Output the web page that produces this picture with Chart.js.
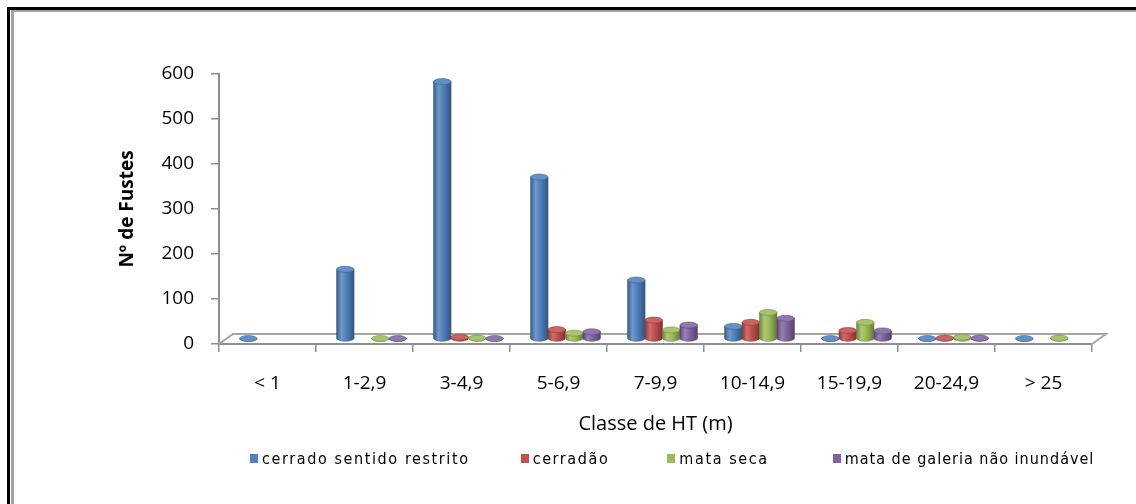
<!DOCTYPE html>
<html>
<head>
<meta charset="utf-8">
<script src="https://cdn.jsdelivr.net/npm/chart.js@4/dist/chart.umd.min.js"></script>
<style>
  html, body { margin: 0; padding: 0; background: #fff; }
  body { width: 1136px; height: 504px; position: relative; overflow: hidden; }
  .frame-outer { position: absolute; left: 7px; top: 7px; width: 1300px; height: 700px;
                 border-left: 3px solid #000; border-top: 3px solid #000; }
  .frame-inner { position: absolute; left: 11px; top: 10px; width: 1300px; height: 700px;
                 border-left: 3px solid #a3a3a3; border-top: 2px solid #a3a3a3; }
  #chart { position: absolute; left: 0; top: 0; }
  #legend { position: absolute; left: 250px; top: 449px; display: flex; align-items: center;
            font-family: "Liberation Sans Narrow", "DejaVu Sans Condensed", sans-serif;
            font-size: 16px; letter-spacing: 1.6px; color: #000; white-space: nowrap; }
  #legend .item { display: flex; align-items: center; }
  #legend .item:nth-child(1) { margin-right: 51px; }
  #legend .item:nth-child(2) { margin-right: 58px; }
  #legend .item:nth-child(3) { margin-right: 64px; }
  #legend .item:nth-child(4) span:last-child { letter-spacing: 1.0px; }
  #legend .swatch { width: 8px; height: 9px; margin-right: 4px; }
</style>
</head>
<body>
<div class="frame-outer"></div>
<div class="frame-inner"></div>
<canvas id="chart" width="1136" height="504"></canvas>
<div id="legend"></div>
<script>
// Height classes (m)
const categories = ['< 1', '1-2,9', '3-4,9', '5-6,9', '7-9,9', '10-14,9', '15-19,9', '20-24,9', '> 25'];

// Number of stems per height class, by vegetation type
const cerradoSentidoRestrito = [1, 155, 572, 360, 131, 28, 1, 1, 1];
const cerradao               = [null, null, 4, 21, 42, 37, 19, 2, null];
const mataSeca               = [null, 1, 2, 13, 20, 59, 37, 4, 2];
const mataDeGaleria          = [null, 1, 1, 16, 31, 46, 18, 2, null];

const seriesNames  = ['cerrado sentido restrito', 'cerradão', 'mata seca', 'mata de galeria não inundável'];
const seriesColors = ['#4F81BD', '#C0504D', '#9BBB59', '#8064A2'];
const seriesValues = [cerradoSentidoRestrito, cerradao, mataSeca, mataDeGaleria];

const yTicks = [0, 100, 200, 300, 400, 500, 600];

const axisGray = '#8f8f8f';
// floor depth of the pseudo-3D plot (front edge -> back wall)
const DEPTH = { dx: 14, dy: -10 };

function shade(hex, f) {
  const n = parseInt(hex.slice(1), 16);
  let r = (n >> 16) & 255, g = (n >> 8) & 255, b = n & 255;
  const m = c => Math.max(0, Math.min(255, Math.round(f >= 1 ? c + (255 - c) * (f - 1) : c * f)));
  return `rgb(${m(r)},${m(g)},${m(b)})`;
}

// Floor of the 3D plot, drawn behind the columns
const floorPlugin = {
  id: 'floor',
  beforeDatasetsDraw(chart) {
    const { ctx, chartArea: a } = chart;
    ctx.save();
    ctx.strokeStyle = '#a5a5a5';
    ctx.lineWidth = 2;
    ctx.beginPath();
    ctx.moveTo(a.left, a.bottom);
    ctx.lineTo(a.left + DEPTH.dx, a.bottom + DEPTH.dy);
    ctx.lineTo(a.right + DEPTH.dx, a.bottom + DEPTH.dy);
    ctx.lineTo(a.right, a.bottom);
    ctx.stroke();
    ctx.restore();
  }
};

// Columns rendered as shaded cylinders standing mid-way into the floor
const cylinderPlugin = {
  id: 'cylinders',
  beforeDatasetDraw() { return false; },
  afterDatasetsDraw(chart) {
    const { ctx } = chart;
    const ox = DEPTH.dx / 2, oy = DEPTH.dy / 2;
    ctx.save();
    ctx.translate(ox, oy);
    categories.forEach((_, i) => {
      chart.data.datasets.forEach((ds, d) => {
        const meta = chart.getDatasetMeta(d);
        const el = meta.data[i];
        if (!el || ds.data[i] === null || ds.data[i] === undefined) return;
        const { x, y, base, width } = el.getProps(['x', 'y', 'base', 'width'], true);
        const color = seriesColors[d];
        const rx = width / 2;
        const ry = 3;
        const l = x - rx, r = x + rx;
        const g = ctx.createLinearGradient(l, 0, r, 0);
        g.addColorStop(0, shade(color, 0.72));
        g.addColorStop(0.28, shade(color, 1.18));
        g.addColorStop(0.55, shade(color, 1.0));
        g.addColorStop(1, shade(color, 0.66));
        ctx.beginPath();
        ctx.moveTo(l, y);
        ctx.lineTo(l, base);
        ctx.ellipse(x, base, rx, ry, 0, Math.PI, 0, true);
        ctx.lineTo(r, y);
        ctx.closePath();
        ctx.fillStyle = g;
        ctx.fill();
        ctx.strokeStyle = shade(color, 0.7);
        ctx.lineWidth = 0.6;
        ctx.stroke();
        // top cap
        ctx.beginPath();
        ctx.ellipse(x, y, rx, ry, 0, 0, Math.PI * 2);
        ctx.fillStyle = shade(color, 1.12);
        ctx.fill();
        ctx.strokeStyle = shade(color, 0.75);
        ctx.lineWidth = 0.6;
        ctx.stroke();
      });
    });
    ctx.restore();
  }
};

const tickFont = { family: '"Open Sans", "Liberation Sans", sans-serif', size: 19 };

const chart = new Chart(document.getElementById('chart'), {
  type: 'bar',
  data: {
    labels: categories,
    datasets: seriesValues.map((vals, d) => ({
      label: seriesNames[d],
      data: vals,
      backgroundColor: seriesColors[d],
      categoryPercentage: 0.72,
      barPercentage: 1.0
    }))
  },
  options: {
    responsive: false,
    animation: false,
    devicePixelRatio: 1,
    layout: { padding: { left: 116.6, right: 44, top: 74, bottom: 68 } },
    plugins: { legend: { display: false }, tooltip: { enabled: false } },
    scales: {
      x: {
        grid: { offset: true, drawOnChartArea: false, drawTicks: true, tickLength: 8,
                color: axisGray, lineWidth: 1.5 },
        border: { display: true, color: axisGray, width: 2 },
        ticks: { color: '#000', font: tickFont, padding: 20, maxRotation: 0, autoSkip: false },
        title: { display: true, text: 'Classe de HT (m)', color: '#000',
                 font: { family: '"Open Sans", sans-serif', size: 20 }, padding: { top: 0, bottom: 0 } },
        afterFit(scale) { scale.height = 92; }
      },
      y: {
        min: 0, max: 600,
        afterBuildTicks(scale) { scale.ticks = yTicks.map(v => ({ value: v })); },
        grid: { drawOnChartArea: false, drawTicks: true, tickLength: 8, color: axisGray, lineWidth: 1.5 },
        border: { display: true, color: axisGray, width: 2 },
        ticks: { color: '#000', font: tickFont, padding: 17 },
        title: { display: true, text: 'Nº de Fustes', color: '#000',
                 font: { family: '"Open Sans", sans-serif', size: 19, weight: 'bold' },
                 padding: { top: 0, bottom: 0 } },
        afterFit(scale) { scale.width = 102.4; }
      }
    }
  },
  plugins: [floorPlugin, cylinderPlugin]
});

// Legend as text below the plot
const legendEl = document.getElementById('legend');
seriesNames.forEach((name, d) => {
  const item = document.createElement('div');
  item.className = 'item';
  const sw = document.createElement('span');
  sw.className = 'swatch';
  sw.style.background = seriesColors[d];
  const tx = document.createElement('span');
  tx.textContent = name;
  item.appendChild(sw);
  item.appendChild(tx);
  legendEl.appendChild(item);
});
</script>
</body>
</html>
